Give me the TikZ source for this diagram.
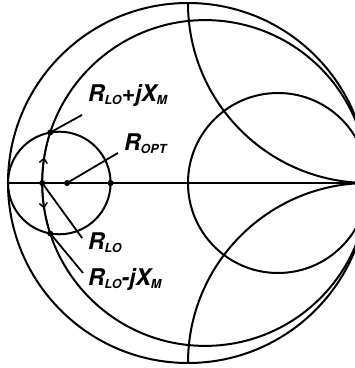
\documentclass[tikz,border=0pt]{standalone}
\usepackage{fontspec}
\setsansfont{TeX Gyre Heros}
\usetikzlibrary{arrows.meta,decorations.markings}

\newcommand{\lsub}[1]{\raisebox{-3pt}{\fontsize{12.5}{12.5}\selectfont #1}}

\begin{document}
\begin{tikzpicture}[x=180pt, y=180pt,
  chart/.style={line width=2pt},
  leader/.style={line width=1.8pt},
  dot/.style={circle, fill=black, inner sep=0pt, minimum size=6pt},
  lbl/.style={anchor=base west, inner sep=0pt,
              font=\fontsize{23}{23}\selectfont\sffamily\bfseries\itshape},
  flow/.style={line width=1.5pt, postaction={decorate},
               decoration={markings, mark=at position 0.5 with {\arrow{Straight Barb[length=4.5pt,width=8pt]}}}},
]
\useasboundingbox (-1.0444,-1.0278) rectangle (0.9278,1.0167);
\clip (-1.0444,-1.0278) rectangle (0.9278,1.0167);

%% ── Smith chart ───────────────────────────────────────────────────────────
\draw[chart] (0,0) circle[radius=1];
\draw[chart] (0.5,0) circle[radius=0.5];
\draw[chart] (0.095,0) circle[radius=0.905];
\begin{scope}
  \clip (0,0) circle[radius=1];
  \draw[chart] (1,1) circle[radius=1];
  \draw[chart] (1,-1) circle[radius=1];
\end{scope}
\draw[chart] (-1,0) -- (1,0);

% circle round R_OPT
\draw[chart] (-0.715,0) circle[radius=0.285];

%% ── Points ────────────────────────────────────────────────────────────────
\node[dot] (dLo)    at (-0.81,0)        {};
\node[dot] (dOpt)   at (-0.672,0)       {};
\node[dot] (dEdge)  at (-0.43,0)        {};
\node[dot] (dPlus)  at (-0.7654,0.2805) {};
\node[dot] (dMinus) at (-0.7654,-0.2805) {};

% direction along the R_LO circle
\draw[flow] (dLo.center) arc[start angle=180, end angle=161.94, radius=0.905];
\draw[flow] (dLo.center) arc[start angle=180, end angle=198.06, radius=0.905];

%% ── Labels ────────────────────────────────────────────────────────────────
\node[lbl] (lPlus)  at (-0.556,0.45)   {R\lsub{LO}+jX\lsub{M}};
\node[lbl] (lOpt)   at (-0.356,0.183)  {R\lsub{OPT}};
\node[lbl] (lLo)    at (-0.556,-0.372) {R\lsub{LO}};
\node[lbl] (lMinus) at (-0.556,-0.567) {R\lsub{LO}-jX\lsub{M}};

\coordinate (ePlus)  at (-0.589,0.378);
\coordinate (eOpt)   at (-0.389,0.167);
\coordinate (eLo)    at (-0.588,-0.306);
\coordinate (eMinus) at (-0.583,-0.5);

\draw[leader] (dPlus.center)  -- (ePlus);
\draw[leader] (dOpt.center)   -- (eOpt);
\draw[leader] (dLo.center)    -- (eLo);
\draw[leader] (dMinus.center) -- (eMinus);

\end{tikzpicture}
\end{document}
